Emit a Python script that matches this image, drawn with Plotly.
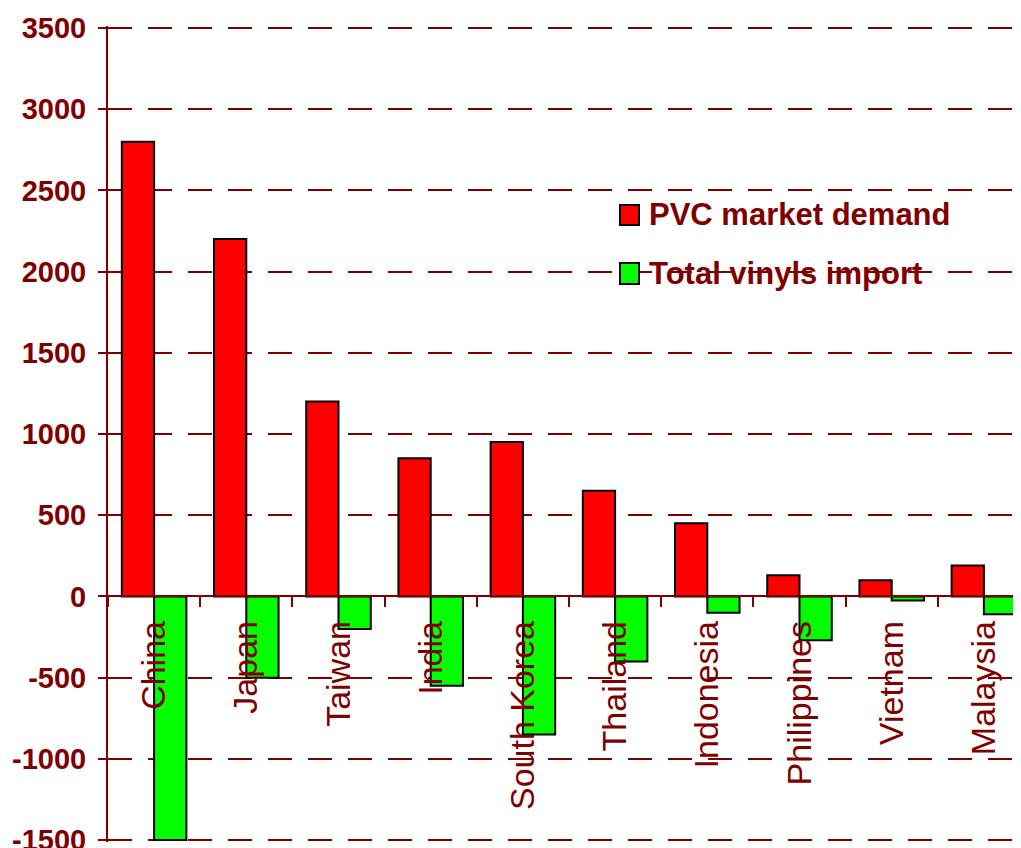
import plotly.graph_objects as go

countries = ["China", "Japan", "Taiwan", "India", "South Korea", "Thailand",
             "Indonesia", "Philippines", "Vietnam", "Malaysia"]
pvc_demand = [2800, 2200, 1200, 850, 950, 650, 450, 130, 100, 190]
vinyl_import = [-1500, -500, -200, -550, -850, -400, -100, -270, -25, -110]
series_names = ["PVC market demand", "Total vinyls import"]
series_colors = ["#FF0000", "#00FF00"]
y_ticks = list(range(-1500, 3501, 500))

DARK = "#800000"
FONT = "Liberation Sans, Arial, sans-serif"

fig = go.Figure()
for name, vals, col in zip(series_names, [pvc_demand, vinyl_import], series_colors):
    fig.add_trace(go.Bar(x=countries, y=vals, name=name, marker_color=col,
                         marker_line=dict(color="black", width=2), showlegend=False))

# page body has an 8px margin; compensate so the plot lands where the original is
OFF = 8
W, H = 1021, 848
ML, MR, MT, MB = 100, 0, 18, 14
pw, ph = W - ML - MR, H - MT - MB

# small padding (~2px) so the end gridlines (at -1500 and 3500) are still drawn
y_lo, y_hi = y_ticks[0] - 12, y_ticks[-1] + 12
zero_pos = (0 - y_lo) / (y_hi - y_lo)

def px_x(x):
    return (x - OFF - ML) / pw

def px_y(y):
    return (OFF + H - MB - y) / ph

# manual legend (large square swatches like the original)
legend_rows = [(205, 225), (263, 284)]
shapes = []
annotations = []
for (y0, y1), name, col in zip(legend_rows, series_names, series_colors):
    shapes.append(dict(type="rect", xref="paper", yref="paper",
                       x0=px_x(620), x1=px_x(639), y0=px_y(y1), y1=px_y(y0),
                       fillcolor=col, line=dict(color="black", width=2)))
    annotations.append(dict(xref="paper", yref="paper", x=px_x(647), y=px_y((y0 + y1) / 2),
                            text=name, showarrow=False, xanchor="left", yanchor="middle",
                            font=dict(family=FONT, size=31, color=DARK, weight="bold")))

fig.update_layout(
    width=W, height=H,
    margin=dict(l=ML, r=MR, t=MT, b=MB, autoexpand=False),
    paper_bgcolor="white", plot_bgcolor="white",
    barmode="group", bargap=0.3, bargroupgap=0,
    shapes=shapes, annotations=annotations,
    xaxis=dict(anchor="free", position=zero_pos, range=[-0.5, -0.5 + pw / 92.2],
               automargin=False,
               showline=True, linecolor=DARK, linewidth=2,
               ticks="outside", tickson="boundaries", ticklen=10, tickwidth=2, tickcolor=DARK,
               tickangle=-90, ticklabelstandoff=10,
               tickfont=dict(family=FONT, size=34, color=DARK),
               showgrid=False, zeroline=False),
    yaxis=dict(range=[y_lo, y_hi], tickvals=y_ticks, ticktext=[str(v) for v in y_ticks],
               automargin=False, ticklabeloverflow="allow",
               showline=True, linecolor=DARK, linewidth=2,
               ticks="outside", ticklen=8, tickwidth=2, tickcolor=DARK,
               tickfont=dict(family=FONT, size=29, color=DARK, weight="bold"),
               ticklabelstandoff=6,
               showgrid=True, gridcolor=DARK, gridwidth=1.5, griddash="24px,16px",
               zeroline=True, zerolinecolor=DARK, zerolinewidth=2),
)

fig.write_html("out.html")
